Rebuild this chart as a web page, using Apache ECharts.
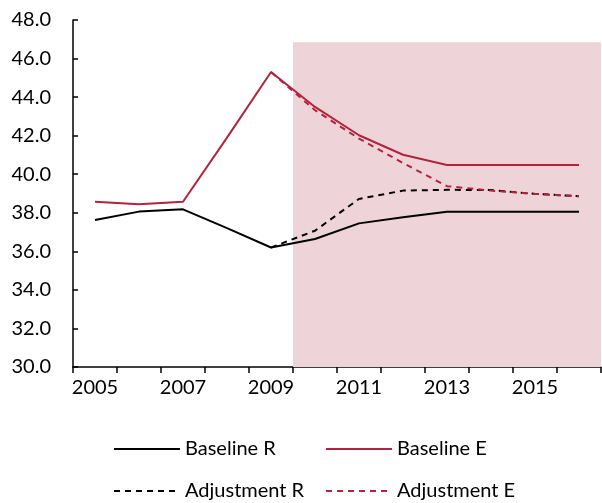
<!DOCTYPE html>
<html>
<head>
<meta charset="utf-8">
<script src="https://cdn.jsdelivr.net/npm/echarts@6/dist/echarts.min.js"></script>
<style>
  html, body { margin: 0; padding: 0; background: #fff; }
  #chart { width: 602px; height: 503px; }
</style>
</head>
<body>
<div id="chart"></div>
<script>
// Years on the horizontal axis
const years = ['2005', '2006', '2007', '2008', '2009', '2010', '2011', '2012', '2013', '2014', '2015', '2016'];

// Series values (ratios, %)
const baselineR   = [37.63, 38.06, 38.18, 37.2, 36.2, 36.64, 37.45, 37.77, 38.05, 38.05, 38.05, 38.05];
const baselineE   = [38.57, 38.44, 38.57, 41.9, 45.3, 43.49, 42.02, 41.01, 40.48, 40.48, 40.48, 40.48];
const adjustmentR = [null, null, null, null, 36.2, 37.07, 38.72, 39.15, 39.19, 39.18, 38.98, 38.86];
const adjustmentE = [null, null, null, null, 45.3, 43.32, 41.85, 40.58, 39.38, 39.15, 38.98, 38.86];

// Projection period shading: first projected year and upper bound of the band
const projectionStart = '2010';
const projectionTop = 46.85;

// Value axis range
const yMin = 30, yMax = 48, yStep = 2;

const RED = '#B3233F';
const BLACK = '#000000';
const SHADE = '#EED3D8';
const FONT = 'Lato, "DejaVu Sans", sans-serif';

const chart = echarts.init(document.getElementById('chart'), null, { renderer: 'canvas' });

const startIdx = years.indexOf(projectionStart);

function lineSeries(name, data, color, dashed) {
  return {
    name: name,
    type: 'line',
    data: data,
    symbol: 'none',
    z: 5,
    connectNulls: false,
    lineStyle: { color: color, width: 2, type: dashed ? [6, 5] : 'solid' },
    itemStyle: { color: color },
    emphasis: { disabled: true }
  };
}

// One legend block per entry so the two columns line up
function legendEntry(name, left, top) {
  return {
    left: left,
    top: top,
    itemWidth: 66,
    itemHeight: 14,
    selectedMode: false,
    itemStyle: { opacity: 0 },
    data: [name],
    textStyle: { color: BLACK, fontSize: 20, fontFamily: FONT }
  };
}

chart.setOption({
  animation: false,
  backgroundColor: '#fff',
  textStyle: { fontFamily: FONT },
  grid: { left: 73, right: 1, top: 20, bottom: 136, containLabel: false },
  xAxis: [
    {
      type: 'category',
      data: years,
      boundaryGap: true,
      axisLine: { show: true, lineStyle: { color: BLACK, width: 1.5 } },
      axisTick: { show: true, inside: false, length: 6, interval: 0, lineStyle: { color: BLACK, width: 1.5 } },
      axisLabel: { interval: 1, color: BLACK, fontSize: 20, fontFamily: FONT, margin: 11 },
      splitLine: { show: false }
    },
    {
      type: 'value',
      min: 0,
      max: years.length,
      show: false
    }
  ],
  yAxis: {
    type: 'value',
    min: yMin,
    max: yMax,
    interval: yStep,
    axisLine: { show: true, lineStyle: { color: BLACK, width: 1.5 } },
    axisTick: { show: true, inside: true, length: 5, lineStyle: { color: BLACK, width: 1.5 } },
    axisLabel: {
      color: BLACK, fontSize: 20, fontFamily: FONT, margin: 22,
      formatter: v => v.toFixed(1)
    },
    splitLine: { show: false }
  },
  legend: [
    legendEntry('Baseline R', 108, 434),
    legendEntry('Baseline E', 320, 434),
    legendEntry('Adjustment R', 108, 476),
    legendEntry('Adjustment E', 320, 476)
  ],
  series: [
    {
      name: 'projection',
      type: 'line',
      xAxisIndex: 1,
      data: [],
      silent: true,
      z: 1,
      markArea: {
        silent: true,
        itemStyle: { color: SHADE },
        data: [[{ xAxis: startIdx, yAxis: yMin }, { xAxis: years.length, yAxis: projectionTop }]]
      }
    },
    lineSeries('Baseline R', baselineR, BLACK, false),
    lineSeries('Baseline E', baselineE, RED, false),
    lineSeries('Adjustment R', adjustmentR, BLACK, true),
    lineSeries('Adjustment E', adjustmentE, RED, true)
  ]
});
</script>
</body>
</html>
